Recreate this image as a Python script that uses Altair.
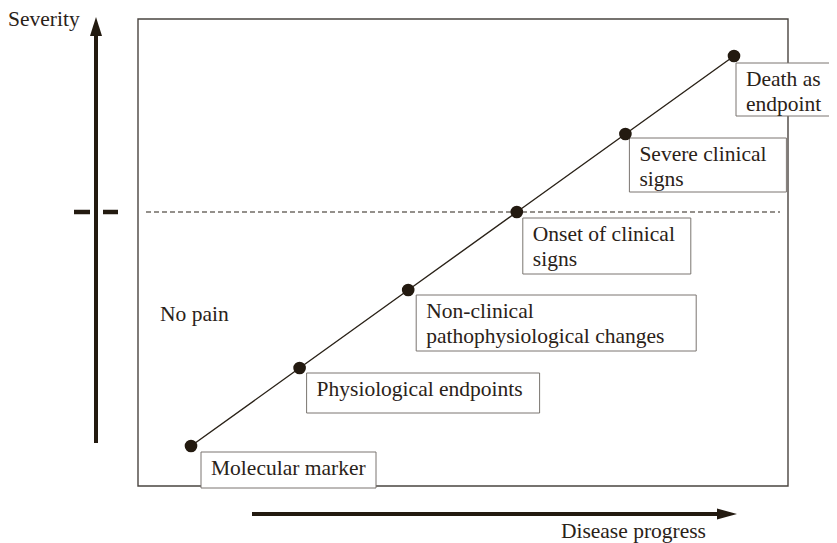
import altair as alt
import pandas as pd

# ---------------- data ----------------
stages = [
    "Molecular marker",
    "Physiological endpoints",
    "Non-clinical\npathophysiological changes",
    "Onset of clinical\nsigns",
    "Severe clinical\nsigns",
    "Death as\nendpoint",
]
progress = [1, 2, 3, 4, 5, 6]
severity = [1, 2, 3, 4, 5, 6]
pain_threshold = [4]          # severity at onset of clinical signs
axis_titles = ["Severity", "Disease progress"]
region_labels = ["No pain"]

# ---------------- layout ----------------
W, H = 821, 535
PX_X, PX_Y = 108.6, 78.0      # pixels per unit
OX, OY = 191.0, 446.0         # image px of progress=1 / severity=1


def ux(px):
    return 1 + (px - OX) / PX_X


def uy(py):
    return 1 + (OY - py) / PX_Y


XD = [ux(8), ux(8 + W)]
YD = [uy(8 + H), uy(8)]

FONT = "Liberation Serif"
FS = 21.5
INK = "#231a10"
TXT = "#2a2218"


def X(f="x"):
    return alt.X(f"{f}:Q", scale=alt.Scale(domain=XD, nice=False, zero=False), axis=None)


def Y(f="y"):
    return alt.Y(f"{f}:Q", scale=alt.Scale(domain=YD, nice=False, zero=False), axis=None)


# label boxes: pixel offsets from each point (left, right, top, bottom)
box_dx = [(10, 185), (7, 240), (8, 288), (6, 174), (4, 161), (2, 115)]
box_dy = [(6, 42), (5, 45), (5, 61), (6, 62), (4, 58), (7, 60)]

pts = pd.DataFrame({"x": progress, "y": severity, "label": stages})
boxes = pd.DataFrame({
    "x": [p + a / PX_X for p, (a, b) in zip(progress, box_dx)],
    "x2": [p + b / PX_X for p, (a, b) in zip(progress, box_dx)],
    "y": [s - a / PX_Y for s, (a, b) in zip(severity, box_dy)],
    "y2": [s - b / PX_Y for s, (a, b) in zip(severity, box_dy)],
    "tx": [p + (a + 10) / PX_X for p, (a, b) in zip(progress, box_dx)],
    "ty": [s - (a + 23) / PX_Y for s, (a, b) in zip(severity, box_dy)],
    "label": [t.split("\n") for t in stages],
})

frame = pd.DataFrame({"x": [ux(138)], "x2": [ux(788)], "y": [uy(19)], "y2": [uy(486)]})
dash = pd.DataFrame({"x": [ux(146)], "x2": [ux(780)], "y": pain_threshold})
ticks = pd.DataFrame({"x": [ux(74), ux(103)], "x2": [ux(90), ux(118)], "y": pain_threshold * 2})
vshaft = pd.DataFrame({"x": [ux(96)], "y": [uy(443)], "y2": [uy(34)]})
hshaft = pd.DataFrame({"x": [ux(252)], "x2": [ux(720)], "y": [uy(514)]})
vhead = pd.DataFrame({"x": [ux(96)], "y": [uy(26.5)]})
hhead = pd.DataFrame({"x": [ux(727)], "y": [uy(514)]})
ytitle = pd.DataFrame({"x": [ux(8)], "y": [uy(26)], "t": [axis_titles[0]]})
xtitle = pd.DataFrame({"x": [ux(706)], "y": [uy(538)], "t": [axis_titles[1]]})
nopain = pd.DataFrame({"x": [ux(160)], "y": [uy(321)], "t": region_labels})

layers = [
    alt.Chart(frame).mark_rect(fill=None, stroke="#4a4540", strokeWidth=1.4).encode(
        x=X(), x2="x2", y=Y(), y2="y2"),
    alt.Chart(dash).mark_rule(color="#2a2218", strokeWidth=1.1, strokeDash=[5, 3]).encode(
        x=X(), x2="x2", y=Y()),
    alt.Chart(ticks).mark_rule(color=INK, strokeWidth=4.5).encode(
        x=X(), x2="x2", y=Y()),
    alt.Chart(vshaft).mark_rule(color=INK, strokeWidth=4).encode(
        x=X(), y=Y(), y2="y2"),
    alt.Chart(hshaft).mark_rule(color=INK, strokeWidth=4).encode(
        x=X(), x2="x2", y=Y()),
    alt.Chart(vhead).mark_point(shape="M0,-1L0.632,1L-0.632,1Z", size=361, filled=True,
                                color=INK, opacity=1, strokeWidth=0).encode(x=X(), y=Y()),
    alt.Chart(hhead).mark_point(shape="M1,0L-1,0.55L-1,-0.55Z", size=400, filled=True,
                                color=INK, opacity=1, strokeWidth=0).encode(x=X(), y=Y()),
    alt.Chart(pts).mark_line(color="#2a2218", strokeWidth=1.4).encode(
        x=X(), y=Y(), order="x:Q"),
    alt.Chart(boxes).mark_rect(fill="white", stroke="#7a7570", strokeWidth=1).encode(
        x=X(), x2="x2", y=Y(), y2="y2"),
    alt.Chart(boxes).mark_text(font=FONT, fontSize=FS, align="left", baseline="alphabetic",
                               lineHeight=25, color=TXT).encode(
        x=X("tx"), y=Y("ty"), text="label"),
    alt.Chart(pts).mark_circle(size=160, color=INK, opacity=1).encode(x=X(), y=Y()),
    alt.Chart(ytitle).mark_text(font=FONT, fontSize=FS, align="left", baseline="alphabetic",
                                color=TXT).encode(x=X(), y=Y(), text="t"),
    alt.Chart(xtitle).mark_text(font=FONT, fontSize=FS, align="right", baseline="alphabetic",
                                color=TXT).encode(x=X(), y=Y(), text="t"),
    alt.Chart(nopain).mark_text(font=FONT, fontSize=FS, align="left", baseline="alphabetic",
                                color=TXT).encode(x=X(), y=Y(), text="t"),
]

chart = alt.layer(*layers).properties(
    width=W, height=H, padding=0, autosize=alt.AutoSizeParams(type="none"),
    background="white",
).configure_view(stroke=None)

chart.save("out.html", embed_options={"renderer": "svg", "actions": False})
